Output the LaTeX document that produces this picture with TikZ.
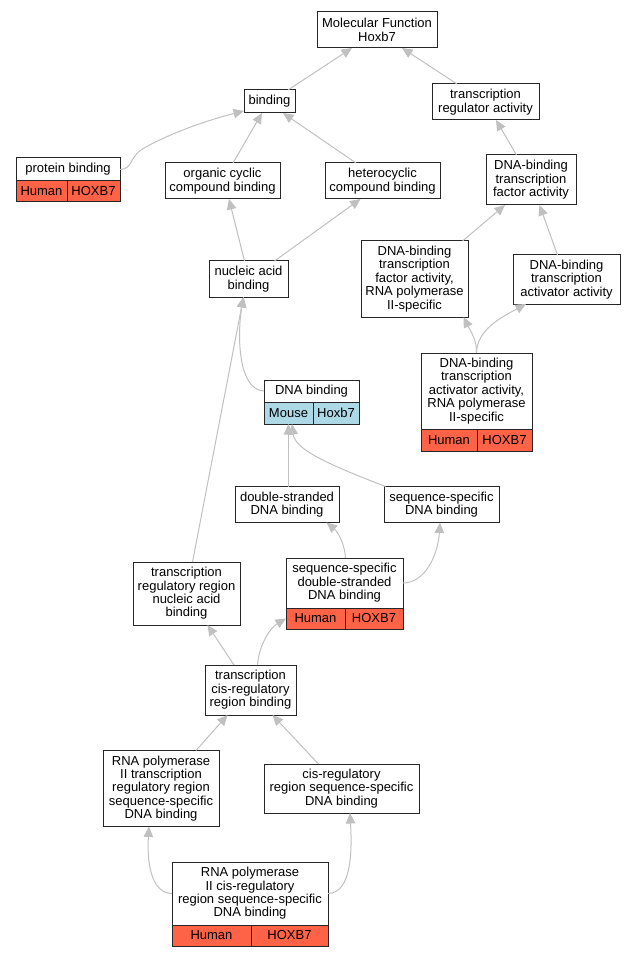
\documentclass[tikz,border=0pt]{standalone}
\usepackage{fontspec}
\setmainfont{Liberation Sans}
\usetikzlibrary{positioning}
\usetikzlibrary{arrows.meta}
\definecolor{edgegray}{HTML}{C0C0C0}
\definecolor{human}{HTML}{FF6347}
\definecolor{mouse}{HTML}{ADD8E6}

\begin{document}
\begin{tikzpicture}[x=1pt,y=-1pt,
    term/.style={draw=black!85, line width=1pt, fill=white, align=center,
      inner sep=0pt, outer sep=0pt, font=\fontsize{13}{13.4}\selectfont},
    cell/.style={term, minimum height=21, anchor=north west},
    isa/.style={draw=edgegray, line width=1pt, -{Triangle[length=10.5pt,width=9.5pt]}}]
    \useasboundingbox (0,0) rectangle (636,957);

    % Terms of the upper part
    \node[term, minimum width=120, minimum height=36] (mf) at (377,30) {Molecular Function\\Hoxb7};
    \node[term, minimum width=107, minimum height=36] (tra) at (485.5,102) {transcription\\regulator activity};
    \node[term, minimum width=51, minimum height=23] (bind) at (269.5,101.5) {binding};
    \node[term, minimum width=104, minimum height=23] (pb) at (68,169.5) {protein binding};
    \node[cell, fill=human, minimum width=51] (pbh) at (pb.south west) {Human};
    \node[cell, fill=human, minimum width=53] (pbg) at (pbh.north east) {HOXB7};
    \node[term, minimum width=115, minimum height=36] (ocb) at (222.5,181) {organic cyclic\\compound binding};
    \node[term, minimum width=115, minimum height=36] (hcb) at (382.5,181) {heterocyclic\\compound binding};
    \node[term, minimum width=90, minimum height=50] (dtfa) at (531,180) {DNA-binding\\transcription\\factor activity};
    \node[term, minimum width=79, minimum height=36] (nab) at (248.5,279) {nucleic acid\\binding};
    \node[term, minimum width=107, minimum height=76] (dtfp) at (414.5,279) {DNA-binding\\transcription\\factor activity,\\RNA polymerase\\II-specific};
    \node[term, minimum width=107, minimum height=49] (dtaa) at (566.5,279.5) {DNA-binding\\transcription\\activator activity};
    \node[term, minimum width=111, minimum height=76] (dtap) at (476.5,391) {DNA-binding\\transcription\\activator activity,\\RNA polymerase\\II-specific};
    \node[cell, fill=human, minimum width=56, minimum height=22] (dtaph) at (dtap.south west) {Human};
    \node[cell, fill=human, minimum width=55, minimum height=22] (dtapg) at (dtaph.north east) {HOXB7};

    % Terms of the middle part
    \node[term, minimum width=95, minimum height=22] (dnab) at (311.5,391) {DNA binding};
    \node[cell, fill=mouse, minimum width=49, minimum height=22] (dnabm) at (dnab.south west) {Mouse};
    \node[cell, fill=mouse, minimum width=46, minimum height=22] (dnabg) at (dnabm.north east) {Hoxb7};
    \node[term, minimum width=104, minimum height=36] (dsdb) at (287,504.5) {double-stranded\\DNA binding};
    \node[term, minimum width=115, minimum height=36] (ssdb) at (441.5,504.5) {sequence-specific\\DNA binding};
    \node[term, minimum width=107, minimum height=63] (trnb) at (186.5,593.5) {transcription\\regulatory region\\nucleic acid\\binding};
    \node[term, minimum width=117, minimum height=50] (ssds) at (344.5,583) {sequence-specific\\double-stranded\\DNA binding};
    \node[cell, fill=human, minimum width=59] (ssdsh) at (ssds.south west) {Human};
    \node[cell, fill=human, minimum width=58] (ssdsg) at (ssdsh.north east) {HOXB7};

    % Terms of the lower part
    \node[term, minimum width=91, minimum height=50] (tcrb) at (250.5,690) {transcription\\cis-regulatory\\region binding};
    \node[term, minimum width=116, minimum height=76] (rtrb) at (161,788.5) {RNA polymerase\\II transcription\\regulatory region\\sequence-specific\\DNA binding};
    \node[term, minimum width=155, minimum height=49] (crsb) at (341.5,788.5) {cis-regulatory\\region sequence-specific\\DNA binding};
    \node[term, minimum width=156, minimum height=63] (rcrb) at (250,893.5) {RNA polymerase\\II cis-regulatory\\region sequence-specific\\DNA binding};
    \node[cell, fill=human, minimum width=79] (rcrbh) at (rcrb.south west) {Human};
    \node[cell, fill=human, minimum width=77] (rcrbg) at (rcrbh.north east) {HOXB7};

    % Draw the is-a edges
    \draw[isa] ([xshift=18.5]bind.north) -- ([xshift=-25]mf.south);
    \draw[isa] ([xshift=-28.5]tra.north) -- ([xshift=25]mf.south);
    \draw[isa] (pb.east) .. controls (134,169) and (128,156) .. (146,147)
        .. controls (175,131) and (212,119) .. ([yshift=-9.5]bind.west);
    \draw[isa] ([xshift=10.5]ocb.north) -- ([xshift=-7.5]bind.south);
    \draw[isa] ([xshift=-26.5]hcb.north) -- ([xshift=13.5]bind.south);
    \draw[isa] ([xshift=-4]nab.north) -- ([xshift=6.5]ocb.south);
    \draw[isa] ([xshift=26]nab.north) -- ([xshift=-22]hcb.south);
    \draw[isa] ([xshift=-14.5]dtfa.north) -- ([xshift=10.5]tra.south);
    \draw[isa] ([xshift=48]dtfp.north) -- ([xshift=-26]dtfa.south);
    \draw[isa] ([xshift=-9]dtaa.north) -- ([xshift=8.5]dtfa.south);
    \draw[isa] (dtap.north) .. controls (477,340) and (470,330) .. ([xshift=49]dtfp.south);
    \draw[isa] (dtap.north) .. controls (477,330) and (500,318) .. ([xshift=-40.5]dtaa.south);
    \draw[isa] (dnab.west) .. controls (238,390) and (237,335) .. ([xshift=-5]nab.south);
    \draw[isa] ([xshift=6]trnb.north) -- ([xshift=-5]nab.south);
    \draw[isa] ([xshift=1.5]dsdb.north) -- (dnabm.south);
    \draw[isa] ([xshift=1.5]ssdb.north west) .. controls (330,465) and (295,450) .. ([xshift=3.5]dnabm.south);
    \draw[isa] ([xshift=1]ssds.north) .. controls (345,545) and (338,532) .. ([xshift=39.5]dsdb.south);
    \draw[isa] (ssds.east) .. controls (425,583) and (438,555) .. ([xshift=-1.5]ssdb.south);
    \draw[isa] ([xshift=-16.5]tcrb.north) -- ([xshift=21]trnb.south);
    \draw[isa] ([xshift=7]tcrb.north) .. controls (259,645) and (270,628) .. (ssdsh.west);
    \draw[isa] ([xshift=35]rtrb.north) -- ([xshift=-23]tcrb.south);
    \draw[isa] ([xshift=-23]crsb.north) -- ([xshift=22]tcrb.south);
    \draw[isa] (rcrb.west) .. controls (150,893) and (147,860) .. ([xshift=-12]rtrb.south);
    \draw[isa] (rcrb.east) .. controls (352,893) and (352,850) .. ([xshift=8.5]crsb.south);
\end{tikzpicture}
\end{document}
